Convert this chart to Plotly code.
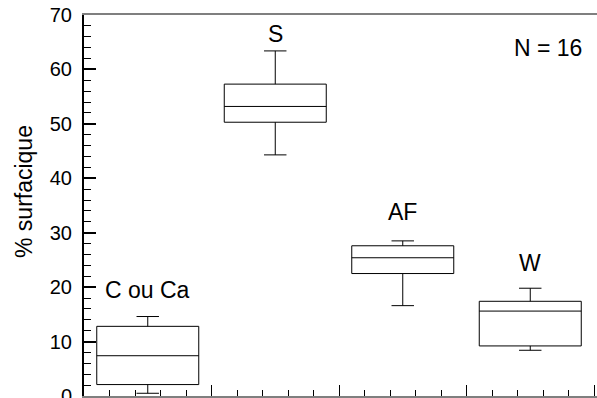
import plotly.graph_objects as go

# box statistics (% surfacique)
groups = ["C ou Ca", "S", "AF", "W"]
positions = [0.5, 1.5, 2.5, 3.5]
lower = [0.5, 44.3, 16.6, 8.4]
q1 = [2.1, 50.3, 22.5, 9.2]
median = [7.4, 53.2, 25.4, 15.6]
q3 = [12.8, 57.3, 27.6, 17.4]
upper = [14.6, 63.4, 28.5, 19.8]
label_y = [19.5, 66.6, 33.8, 24.5]

font = "Liberation Sans, Arial, sans-serif"

fig = go.Figure()
for i, g in enumerate(groups):
    fig.add_trace(go.Box(
        x=[positions[i]],
        lowerfence=[lower[i]],
        q1=[q1[i]],
        median=[median[i]],
        q3=[q3[i]],
        upperfence=[upper[i]],
        width=0.8,
        whiskerwidth=0.22,
        line=dict(color="black", width=1),
        fillcolor="white",
        boxpoints=False,
        hoverinfo="skip",
        showlegend=False,
    ))
    fig.add_annotation(x=positions[i], y=label_y[i], text=g, showarrow=False,
                       font=dict(family=font, size=23, color="black"))

fig.add_annotation(x=3.64, y=64.0, text="N = 16", showarrow=False,
                   font=dict(family=font, size=23, color="black"))

# y title placed by hand (it sits a bit above the plot centre in the original)
fig.add_annotation(xref="paper", yref="paper", x=-0.117, y=0.538,
                   xanchor="center", yanchor="middle",
                   text="% surfacique", textangle=-90, showarrow=False,
                   font=dict(family=font, size=23, color="black"))
# the "0" tick label gets dropped at the bottom edge, so add it back
fig.add_annotation(xref="paper", yref="y", x=0, y=0, xanchor="right", xshift=-10,
                   text="0", showarrow=False,
                   font=dict(family=font, size=20, color="black"))

fig.update_layout(
    width=597, height=398,
    margin=dict(l=84, r=0, t=15, b=2),
    paper_bgcolor="white", plot_bgcolor="white",
    font=dict(family=font, color="black"),
)
fig.update_xaxes(
    range=[0, 513 / 127.5], showgrid=False, zeroline=False,
    showline=True, linecolor="#7f7f7f", linewidth=2, mirror=True,
    showticklabels=False,
    ticks="inside", tickmode="linear", tick0=0, dtick=1, ticklen=11,
    tickcolor="black", tickwidth=1,
    minor=dict(ticks="inside", tickmode="linear", tick0=0, dtick=0.2,
               ticklen=6, tickcolor="black", tickwidth=1),
)
fig.update_yaxes(
    range=[0, 70], showgrid=False, zeroline=False,
    showline=True, linecolor="black", linewidth=2,
    ticks="inside", tickmode="linear", tick0=0, dtick=10, ticklen=12,
    tickcolor="black", tickwidth=1.5,
    minor=dict(ticks="inside", tickmode="linear", tick0=0, dtick=2,
               ticklen=7, tickcolor="black", tickwidth=1),
    tickfont=dict(family=font, size=20, color="black"),
    ticklabelstandoff=6,
)

fig.write_html("out.html", config={"displayModeBar": False},
               post_script="document.body.style.margin='0';")
